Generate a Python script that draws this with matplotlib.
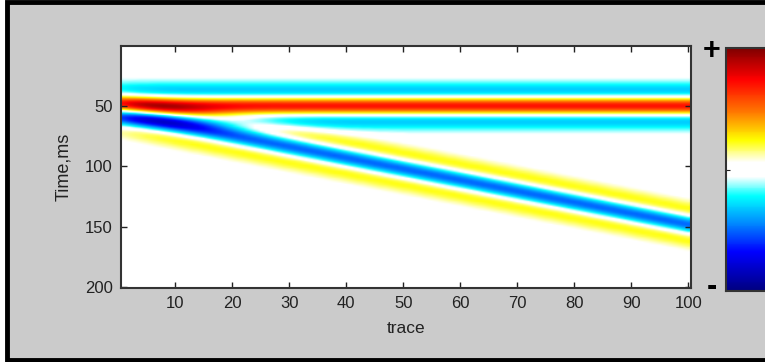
import numpy as np
import matplotlib
matplotlib.use('Agg')
from matplotlib import pyplot as plt
from matplotlib.colors import LinearSegmentedColormap
from matplotlib.patches import Rectangle

# grid of the synthetic section
traces = np.arange(1, 101)
time_ms = np.arange(1, 201)

# two events: time at first and last trace, peak amplitude
event_t_first = [50, 57]
event_t_last = [50, 148]
event_amp = [0.7, -0.5]
wavelet_hz = 29

x_ticks = [10, 20, 30, 40, 50, 60, 70, 80, 90, 100]
y_ticks = [50, 100, 150, 200]

# jet-like map with white in the middle
cmap_pos = [0.0, 0.16, 0.27, 0.39, 0.47, 0.53, 0.62, 0.73, 0.87, 1.0]
cmap_col = [(0, 0, 0.5), (0, 0, 1), (0, 0.5, 1), (0, 1, 1), (1, 1, 1), (1, 1, 1),
            (1, 1, 0), (1, 0.5, 0), (1, 0, 0), (0.5, 0, 0)]
cmap = LinearSegmentedColormap.from_list('seis', list(zip(cmap_pos, cmap_col)))


def ricker(t, f):
    a = (np.pi * f * t) ** 2
    return (1 - 2 * a) * np.exp(-a)


# build section by summing wavelets along each event
section = np.zeros((len(time_ms), len(traces)))
for t0, t1, amp in zip(event_t_first, event_t_last, event_amp):
    t_event = t0 + (t1 - t0) * (traces - traces[0]) / (traces[-1] - traces[0])
    dt = (time_ms[:, None] - t_event[None, :]) / 1000.0
    section += amp * ricker(dt, wavelet_hz)

W, H = 765, 362
fig = plt.figure(figsize=(W / 100, H / 100), dpi=100, facecolor='white')
plt.rcParams['font.family'] = ['Liberation Sans', 'DejaVu Sans']

# gray window with black frame
fig.patches.append(Rectangle((7 / W, 2 / H), 1.2, 1 - 4 / H, transform=fig.transFigure,
                             facecolor='#cbcbcb', edgecolor='black', linewidth=3.5, zorder=-1))

ax = fig.add_axes([121 / W, 1 - 288 / H, (691 - 121) / W, (288 - 46) / H])
ax.imshow(section, cmap=cmap, vmin=-1, vmax=1, aspect='auto', interpolation='bilinear',
          extent=[0.5, 100.5, 200.5, 0.5])
ax.set_xticks(x_ticks)
ax.set_yticks(y_ticks)
ax.tick_params(direction='in', top=True, right=True, length=4, width=1,
               labelsize=12, color='#222222', labelcolor='#222222', pad=6)
for s in ax.spines.values():
    s.set_color('#333333')
    s.set_linewidth(1.5)
ax.set_xlabel('trace', fontsize=12.5, color='#222222', labelpad=7)
ax.set_ylabel('Time,ms', fontsize=13, color='#222222', labelpad=9)

# colorbar, cut by the right edge
cax = fig.add_axes([726 / W, 1 - 291 / H, 70 / W, (291 - 48) / H])
cb = fig.colorbar(ax.images[0], cax=cax)
cb.set_ticks([0])
cax.tick_params(direction='in', length=3, labelright=False, left=True, color='#222222')
cb.outline.set_edgecolor('#333333')
cb.outline.set_linewidth(1.5)

fig.text(712 / W, 1 - 51 / H, '+', fontsize=22, fontweight='bold', ha='center', va='center')
fig.text(712 / W, 1 - 287 / H, '-', fontsize=22, fontweight='bold', ha='center', va='center')

fig.savefig('out.png', dpi=100, facecolor=fig.get_facecolor())
